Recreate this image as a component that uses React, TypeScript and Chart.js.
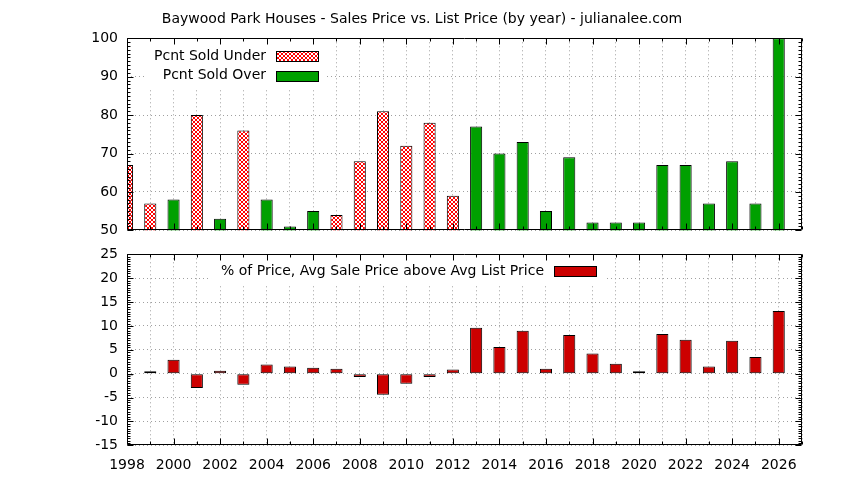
import React, { useEffect, useRef } from 'react';
import { Chart, registerables } from 'chart.js';

Chart.register(...registerables);

const FONT = 'DejaVu Sans';
Chart.defaults.font.family = FONT;
Chart.defaults.font.size = 14;
Chart.defaults.color = '#000';

const title = 'Baywood Park Houses - Sales Price vs. List Price (by year) - julianalee.com';

const years = [
    1998, 1999, 2000, 2001, 2002, 2003, 2004, 2005, 2006, 2007, 2008, 2009, 2010, 2011, 2012,
    2013, 2014, 2015, 2016, 2017, 2018, 2019, 2020, 2021, 2022, 2023, 2024, 2025, 2026,
];

// top panel: percent of houses sold under / over list price (only the larger one shows above 50)
const underLabel = 'Pcnt Sold Under';
const soldUnder = [
    67, 57, null, 80, null, 76, null, null, null, 54, 68, 81, 72, 78, 59,
    null, null, null, null, null, null, null, null, null, null, null, null, null, null,
];
const overLabel = 'Pcnt Sold Over';
const soldOver = [
    null, null, 58, null, 53, null, 58, 51, 55, null, null, null, null, null, null,
    77, 70, 73, 55, 69, 52, 52, 52, 67, 67, 57, 68, 57, 100,
];

// bottom panel
const priceLabel = '% of Price, Avg Sale Price above Avg List Price';
const priceAbove = [
    -0.4, 0.5, 2.9, -3.0, 0.6, -2.3, 1.9, 1.5, 1.25, 1.05, -0.7, -4.4, -2.1, -0.7, 0.85,
    9.6, 5.6, 9.0, 1.05, 8.1, 4.2, 2.1, 0.5, 8.3, 7.1, 1.5, 6.9, 3.5, 13.1,
];

const xMin = 1998;
const xMax = 2027;

function makeCheckPattern(ctx: CanvasRenderingContext2D) {
    const c = document.createElement('canvas');
    c.width = 4;
    c.height = 4;
    const g = c.getContext('2d')!;
    g.fillStyle = '#ffffff';
    g.fillRect(0, 0, 4, 4);
    g.fillStyle = '#ff0000';
    for (let i = 0; i < 4; i++) {
        g.fillRect(i, i, 1, 1);
        g.fillRect(3 - i, i, 1, 1);
    }
    return ctx.createPattern(c, 'repeat');
}

// gnuplot look: opaque key, black border, inward major/minor ticks on all sides
const gnuplotFrame = {
    id: 'gnuplotFrame',
    afterDraw(chart: any, _args: any, opts: any) {
        const { ctx, chartArea: a } = chart;
        const xs = chart.scales.x;
        const ys = chart.scales.y;
        ctx.save();

        // key
        const items = chart.data.datasets.map((d: any) => ({ label: d.label, fill: d.backgroundColor }));
        ctx.font = `14px ${FONT}`;
        const textW = Math.max(...items.map((it: any) => ctx.measureText(it.label).width));
        const sL = opts.keyX;
        const sW = 42;
        const sH = 10;
        const rowH = 19.5;
        const boxL = Math.max(a.left, sL - 10 - textW - 10);
        const boxR = sL + sW + 9;
        const boxT = a.top;
        const boxB = opts.keyY + (items.length - 1) * rowH + 14;
        ctx.fillStyle = '#ffffff';
        ctx.fillRect(boxL, boxT, boxR - boxL, boxB - boxT);
        items.forEach((it: any, i: number) => {
            const cy = opts.keyY + i * rowH;
            ctx.fillStyle = '#000';
            ctx.textAlign = 'right';
            ctx.textBaseline = 'middle';
            ctx.fillText(it.label, sL - 10, cy);
            const top = Math.round(cy - sH / 2);
            ctx.fillStyle = it.fill;
            ctx.fillRect(sL, top, sW, sH);
            ctx.strokeStyle = '#000';
            ctx.lineWidth = 1;
            ctx.strokeRect(sL + 0.5, top + 0.5, sW, sH);
        });

        // border + ticks
        const L = Math.round(a.left) + 0.5;
        const R = Math.round(a.right) - 0.5;
        const T = Math.round(a.top) + 0.5;
        const B = Math.round(a.bottom) - 0.5;
        ctx.strokeStyle = '#000';
        ctx.lineWidth = 1;
        ctx.beginPath();
        ctx.rect(L, T, R - L, B - T);
        for (let v = xs.min; v <= xs.max; v += 1) {
            const px = Math.round(xs.getPixelForValue(v)) + 0.5;
            const len = v % 2 === 0 ? 6 : 3;
            ctx.moveTo(px, B);
            ctx.lineTo(px, B - len);
            ctx.moveTo(px, T);
            ctx.lineTo(px, T + len);
        }
        const n = Math.round((ys.max - ys.min) / opts.minorY);
        for (let k = 0; k <= n; k++) {
            const v = ys.min + k * opts.minorY;
            const r = v / opts.majorY;
            const len = Math.abs(r - Math.round(r)) < 1e-6 ? 6 : 3;
            const py = Math.round(ys.getPixelForValue(v)) + 0.5;
            ctx.moveTo(L, py);
            ctx.lineTo(L + len, py);
            ctx.moveTo(R, py);
            ctx.lineTo(R - len, py);
        }
        ctx.stroke();
        ctx.restore();
    },
};

const gridX = { color: '#a0a0a0', drawTicks: false, tickLength: 0, offset: false };
const gridY = { color: '#a0a0a0', drawTicks: false, tickLength: 0 };
const dotted = { display: false, dash: [1, 3] };

export default function App() {
    const topRef = useRef<HTMLCanvasElement>(null);
    const bottomRef = useRef<HTMLCanvasElement>(null);

    useEffect(() => {
        if (!topRef.current || !bottomRef.current) return;
        const pattern = makeCheckPattern(topRef.current.getContext('2d')!);

        const barStyle = {
            borderColor: '#000',
            borderWidth: 1,
            borderSkipped: false,
            categoryPercentage: 0.52,
            barPercentage: 1,
            grouped: false,
        };

        const top = new Chart(topRef.current, {
            type: 'bar',
            data: {
                labels: years,
                datasets: [
                    { label: underLabel, data: soldUnder, backgroundColor: pattern, ...barStyle },
                    { label: overLabel, data: soldOver, backgroundColor: '#00a000', ...barStyle },
                ],
            },
            options: {
                animation: false,
                responsive: false,
                layout: { padding: { left: 42, right: 42, top: 0, bottom: 19.7 } },
                plugins: {
                    legend: { display: false },
                    tooltip: { enabled: false },
                    title: {
                        display: true,
                        text: title,
                        color: '#000',
                        font: { size: 14, weight: 'normal' },
                        padding: { top: 10.6, bottom: 10.9 },
                    },
                    gnuplotFrame: { keyX: 276, keyY: 56.2, majorY: 10, minorY: 1 },
                },
                scales: {
                    x: {
                        type: 'linear',
                        min: xMin,
                        max: xMax,
                        offset: false,
                        ticks: { display: false, stepSize: 1, autoSkip: false },
                        grid: gridX,
                        border: dotted,
                    },
                    y: {
                        min: 50,
                        max: 100,
                        ticks: { stepSize: 10, padding: 9 },
                        grid: gridY,
                        border: dotted,
                        afterFit: (s: any) => {
                            s.width = 85;
                        },
                    },
                },
            } as any,
            plugins: [gnuplotFrame],
        });

        const bottom = new Chart(bottomRef.current, {
            type: 'bar',
            data: {
                labels: years,
                datasets: [{ label: priceLabel, data: priceAbove, backgroundColor: '#cc0000', ...barStyle }],
            },
            options: {
                animation: false,
                responsive: false,
                layout: { padding: { left: 42, right: 42, top: 24.3, bottom: 0.7 } },
                plugins: {
                    legend: { display: false },
                    tooltip: { enabled: false },
                    gnuplotFrame: { keyX: 554, keyY: 41.3, majorY: 5, minorY: 0.5 },
                },
                scales: {
                    x: {
                        type: 'linear',
                        min: xMin,
                        max: xMax,
                        offset: false,
                        ticks: {
                            stepSize: 1,
                            autoSkip: false,
                            maxRotation: 0,
                            minRotation: 0,
                            padding: 11.6,
                            callback: (v: any) => (v % 2 === 0 ? String(v) : ''),
                        },
                        grid: gridX,
                        border: dotted,
                    },
                    y: {
                        min: -15,
                        max: 25,
                        ticks: { stepSize: 5, padding: 9 },
                        grid: gridY,
                        border: dotted,
                        afterFit: (s: any) => {
                            s.width = 85;
                        },
                    },
                },
            } as any,
            plugins: [gnuplotFrame],
        });

        return () => {
            top.destroy();
            bottom.destroy();
        };
    }, []);

    return (
        <div
            style={{
                position: 'fixed',
                left: 0,
                top: 0,
                width: 844,
                height: 480,
                overflow: 'hidden',
                background: '#fff',
            }}
        >
            <canvas ref={topRef} width={844} height={250} style={{ position: 'absolute', left: 0, top: 0 }} />
            <canvas ref={bottomRef} width={844} height={256} style={{ position: 'absolute', left: 0, top: 230 }} />
        </div>
    );
}
